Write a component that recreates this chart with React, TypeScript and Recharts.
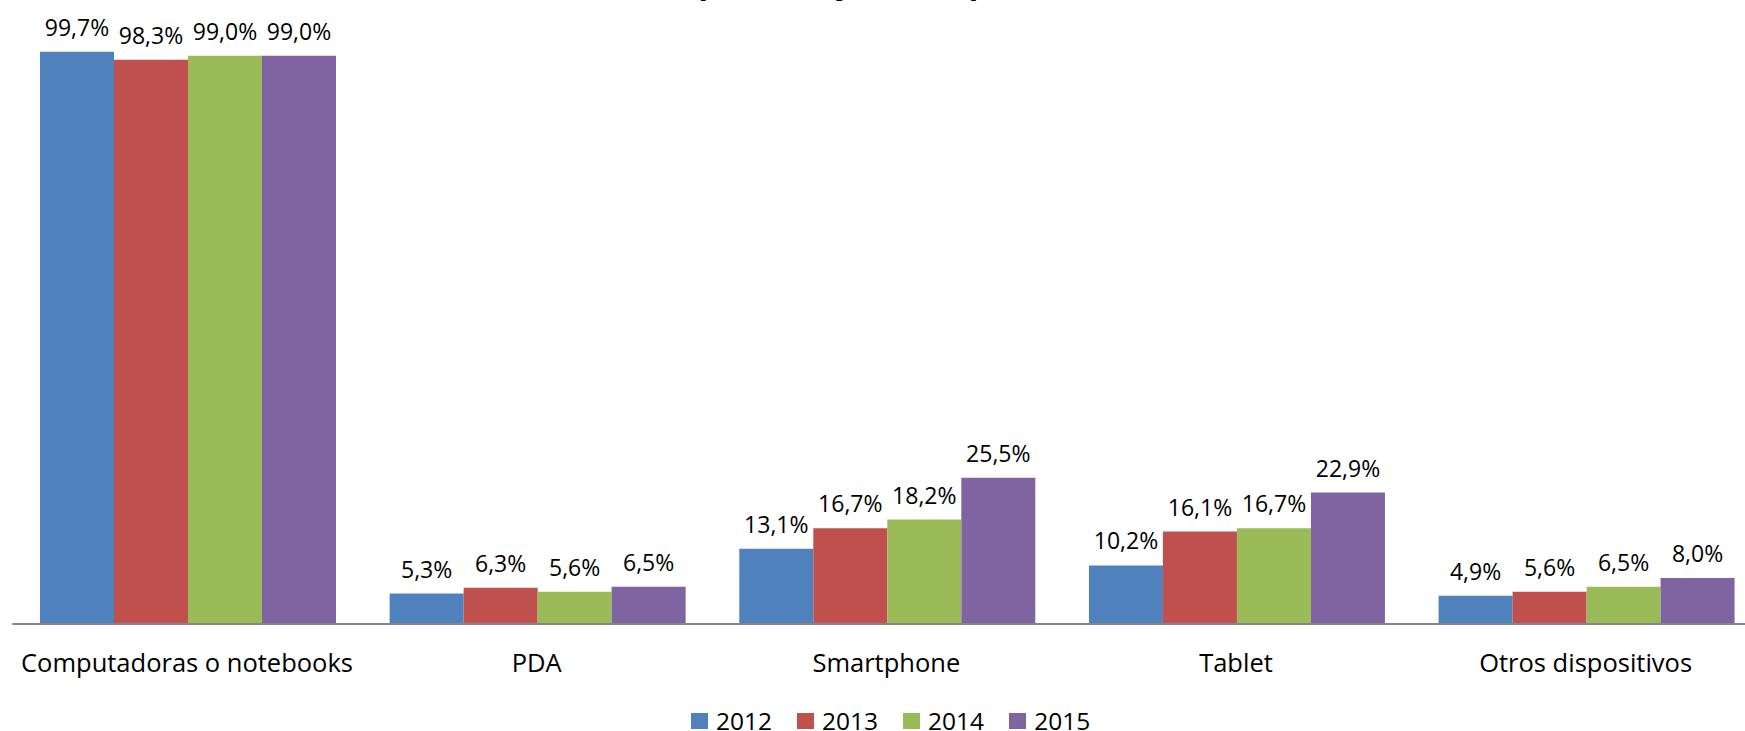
import React from "react";
import { BarChart, Bar, XAxis, YAxis, LabelList } from "recharts";

const categories = ["Computadoras o notebooks", "PDA", "Smartphone", "Tablet", "Otros dispositivos"];
const years = ["2012", "2013", "2014", "2015"];
const values2012 = [99.7, 5.3, 13.1, 10.2, 4.9];
const values2013 = [98.3, 6.3, 16.7, 16.1, 5.6];
const values2014 = [99.0, 5.6, 18.2, 16.7, 6.5];
const values2015 = [99.0, 6.5, 25.5, 22.9, 8.0];
const colors = ["#4F81BD", "#C0504D", "#9BBB59", "#8064A2"];
const titleText = "(porcentaje de empresas)";

const seriesValues = [values2012, values2013, values2014, values2015];
const data = categories.map((c, i) => {
  const row: Record<string, string | number> = { name: c };
  years.forEach((y, k) => {
    row[y] = seriesValues[k][i];
  });
  return row;
});

const fmt = (v: any) => Number(v).toFixed(1).replace(".", ",") + "%";
const FONT = "'Open Sans', 'Noto Sans', sans-serif";

export default function App() {
  return (
    <div
      style={{
        position: "fixed",
        top: 0,
        left: 0,
        width: 1745,
        height: 731,
        overflow: "hidden",
        background: "#fff",
      }}
    >
      <svg width={1745} height={20} style={{ position: "absolute", top: 0, left: 0 }}>
        <text x={688} y={-6} fontFamily={FONT} fontWeight="bold" fontSize={31} fill="#000">
          {titleText}
        </text>
      </svg>
      <div style={{ position: "absolute", top: 0, left: 0 }}>
        <BarChart
          width={1770}
          height={731}
          data={data}
          margin={{ top: 50, right: 9.55, left: 12.2, bottom: 47 }}
          barCategoryGap="7.95%"
          barGap={0}
        >
          <XAxis
            dataKey="name"
            height={60}
            tickLine={false}
            tickSize={0}
            tickMargin={30}
            axisLine={{ stroke: "#868686", strokeWidth: 2 }}
            tick={{ fontFamily: FONT, fontSize: 25.5, fill: "#000" }}
            interval={0}
          />
          <YAxis hide domain={[0, 100]} />
          {years.map((y, k) => (
            <Bar key={y} dataKey={y} fill={colors[k]} isAnimationActive={false}>
              <LabelList
                dataKey={y}
                position="top"
                offset={16}
                formatter={fmt}
                style={{ fontFamily: FONT, fontSize: 23, fill: "#000" }}
              />
            </Bar>
          ))}
        </BarChart>
      </div>
      <div
        style={{
          position: "absolute",
          top: 709,
          left: 691,
          display: "flex",
          alignItems: "center",
          fontFamily: FONT,
          fontSize: 24.5,
          color: "#000",
        }}
      >
        {years.map((y, k) => (
          <div
            key={y}
            style={{ display: "flex", alignItems: "center", height: 24, lineHeight: "24px", marginRight: k < years.length - 1 ? 25 : 0 }}
          >
            <div style={{ width: 17, height: 16, background: colors[k], marginRight: 8 }} />
            <span>{y}</span>
          </div>
        ))}
      </div>
    </div>
  );
}
